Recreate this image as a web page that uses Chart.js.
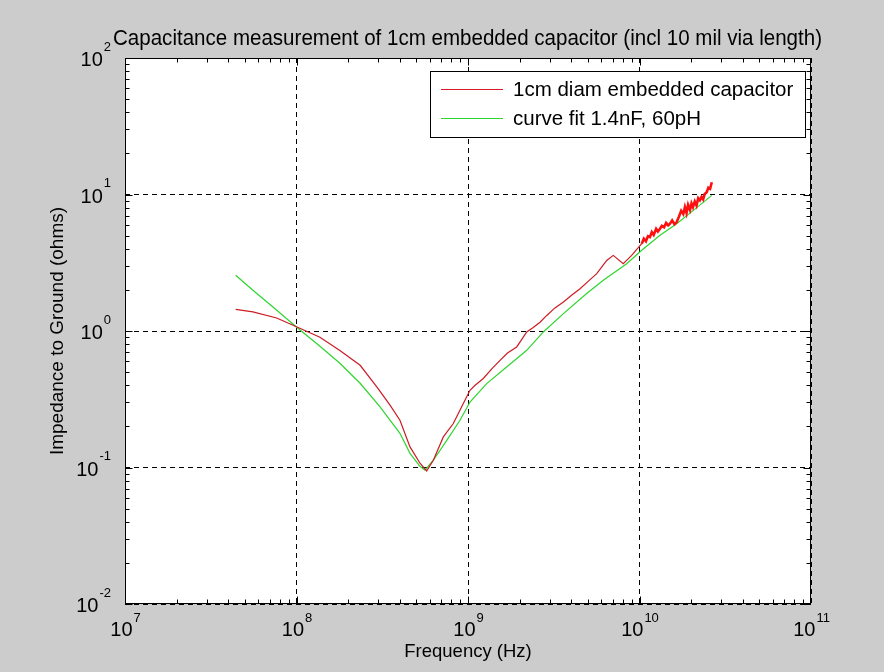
<!DOCTYPE html>
<html><head><meta charset="utf-8">
<script src="https://cdn.jsdelivr.net/npm/chart.js@4"></script>
<style>html,body{margin:0;padding:0;background:#cccccc;overflow:hidden}</style>
</head><body>
<canvas id="c" width="884" height="672"></canvas>
<script>
const titleText = 'Capacitance measurement of 1cm embedded capacitor (incl 10 mil via length)';
const xLabel = 'Frequency (Hz)';
const yLabel = 'Impedance to Ground (ohms)';
const seriesNames = ['1cm diam embedded capacitor', 'curve fit 1.4nF, 60pH'];
const xExponents = [7, 8, 9, 10, 11];
const yExponents = [-2, -1, 0, 1, 2];

const measFreq = [4.42e7, 5.57e7, 7.66e7, 1.007e8, 1.37e8, 1.79e8, 2.35e8, 2.94e8, 3.51e8, 4.01e8,
  4.59e8, 5.25e8, 5.74e8, 6.28e8, 7.18e8, 8.21e8, 9.39e8, 1.027e9, 1.1e9, 1.228e9, 1.38e9, 1.537e9,
  1.7e9, 1.923e9, 2.05e9, 2.2e9, 2.4e9, 2.63e9, 2.88e9, 3.2e9, 3.6e9, 4.0e9, 4.5e9, 5.0e9, 5.63e9,
  6.44e9, 7.03e9, 8.04e9, 9.0e9, 1.03e10, 1.06e10, 1.09e10, 1.12e10, 1.15e10, 1.18e10, 1.21e10,
  1.25e10, 1.28e10, 1.317e10, 1.35e10, 1.39e10, 1.43e10, 1.47e10, 1.506e10, 1.55e10, 1.6e10,
  1.648e10, 1.7e10, 1.75e10, 1.8e10, 1.84e10, 1.88e10, 1.92e10, 1.97e10, 2.01e10, 2.05e10, 2.1e10,
  2.15e10, 2.2e10, 2.25e10, 2.3e10, 2.35e10, 2.4e10, 2.465e10, 2.52e10, 2.58e10, 2.64e10];
const measZ = [1.44, 1.38, 1.245, 1.07, 0.90, 0.72, 0.561, 0.389, 0.286, 0.222,
  0.1416, 0.1075, 0.0944, 0.113, 0.1675, 0.210, 0.294, 0.368, 0.40, 0.449, 0.53, 0.610,
  0.69, 0.764, 0.86, 0.984, 1.06, 1.16, 1.30, 1.47, 1.63, 1.82, 2.04, 2.3, 2.63,
  3.29, 3.58, 3.11, 3.58, 4.36, 4.75, 4.55, 4.95, 4.88, 5.3, 5.05,
  5.6, 5.35, 5.62, 5.9, 5.75, 6.2, 5.95, 6.11, 6.45, 6.05,
  6.28, 6.9, 7.6, 7.2, 8.09, 7.3, 8.4, 7.7, 8.6, 8.09, 8.9,
  8.3, 9.4, 9.06, 9.6, 9.2, 10.1, 10.4, 11.2, 11.0, 12.3];

const fitFreq = [4.42e7, 5.57e7, 7.29e7, 1.007e8, 1.37e8, 1.79e8, 2.35e8, 3.07e8, 4.01e8, 4.59e8,
  5.25e8, 5.61e8, 6.28e8, 7.52e8, 8.98e8, 1.027e9, 1.285e9, 1.68e9, 2.2e9, 2.75e9, 3.6e9, 4.92e9,
  6.15e9, 8.42e9, 1.03e10, 1.317e10, 1.648e10, 2.06e10, 2.64e10];
const fitZ = [2.56, 1.99, 1.50, 1.06, 0.773, 0.580, 0.414, 0.278, 0.178, 0.127,
  0.102, 0.0955, 0.113, 0.158, 0.222, 0.302, 0.412, 0.545, 0.722, 0.984, 1.34, 1.88,
  2.35, 3.11, 3.90, 5.02, 6.11, 7.65, 9.85];

const FONT = '"Liberation Sans", Arial, Helvetica, sans-serif';
const pts = (xs, ys) => xs.map((x, i) => ({x: x, y: ys[i]}));

const matlabPlugin = {
  id: 'matlab',
  beforeDraw(chart) {
    const {ctx, chartArea: a} = chart;
    ctx.save();
    ctx.fillStyle = '#cccccc';
    ctx.fillRect(0, 0, chart.width, chart.height);
    ctx.fillStyle = '#ffffff';
    ctx.fillRect(a.left, a.top, a.right - a.left, a.bottom - a.top);
    ctx.restore();
  },
  afterDraw(chart) {
    const {ctx, chartArea: a} = chart;
    const xs = chart.scales.x, ys = chart.scales.y;
    ctx.save();
    // title
    ctx.fillStyle = '#000';
    ctx.font = '21.2px ' + FONT;
    ctx.textAlign = 'center';
    ctx.textBaseline = 'middle';
    ctx.fillText(titleText, 467.5, 39, 709);
    // box
    ctx.strokeStyle = '#000';
    ctx.lineWidth = 1;
    const L = Math.round(a.left) + 0.5, R = Math.round(a.right) - 0.5;
    const T = Math.round(a.top) + 0.5, B = Math.round(a.bottom) - 0.5;
    ctx.strokeRect(L, T, R - L, B - T);
    ctx.beginPath();
    for (let e = xExponents[0]; e < xExponents[xExponents.length - 1]; e++) {
      for (let m = 1; m <= 9; m++) {
        const px = Math.round(xs.getPixelForValue(m * Math.pow(10, e))) + 0.5;
        const len = m === 1 ? 7 : 4;
        ctx.moveTo(px, B); ctx.lineTo(px, B - len);
        ctx.moveTo(px, T); ctx.lineTo(px, T + len);
      }
    }
    for (let e = yExponents[0]; e < yExponents[yExponents.length - 1]; e++) {
      for (let m = 1; m <= 9; m++) {
        const py = Math.round(ys.getPixelForValue(m * Math.pow(10, e))) + 0.5;
        const len = m === 1 ? 7 : 4;
        ctx.moveTo(L, py); ctx.lineTo(L + len, py);
        ctx.moveTo(R, py); ctx.lineTo(R - len, py);
      }
    }
    ctx.stroke();
    ctx.fillStyle = '#000';
    const baseFont = '20px ' + FONT, expFont = '13px ' + FONT;
    ctx.textBaseline = 'alphabetic';
    xExponents.forEach(e => {
      const px = xs.getPixelForValue(Math.pow(10, e));
      ctx.font = baseFont; const wb = ctx.measureText('10').width;
      ctx.font = expFont; const we = ctx.measureText(String(e)).width;
      const x0 = px - (wb + we) / 2;
      ctx.textAlign = 'left';
      ctx.font = baseFont; ctx.fillText('10', x0, 636);
      ctx.font = expFont; ctx.fillText(String(e), x0 + wb + 1, 622);
    });
    yExponents.forEach(e => {
      const py = ys.getPixelForValue(Math.pow(10, e));
      ctx.font = expFont; const we = ctx.measureText(String(e)).width;
      ctx.textAlign = 'right';
      ctx.fillText(String(e), 111, py - 7.5);
      ctx.font = baseFont;
      ctx.fillText('10', 111 - we - 1, py + 8);
    });
    const lx0 = 430.5, ly0 = 71.5, lx1 = 805.5, ly1 = 137.5;
    ctx.fillStyle = '#fff';
    ctx.fillRect(lx0, ly0, lx1 - lx0, ly1 - ly0);
    ctx.strokeStyle = '#000';
    ctx.strokeRect(lx0, ly0, lx1 - lx0, ly1 - ly0);
    const rowY = [89.5, 118.5];
    chart.data.datasets.forEach((ds, i) => {
      ctx.strokeStyle = ds.legendColor;
      ctx.lineWidth = 1;
      ctx.beginPath();
      ctx.moveTo(441, rowY[i]); ctx.lineTo(503, rowY[i]);
      ctx.stroke();
      ctx.fillStyle = '#000';
      ctx.font = '20.5px ' + FONT;
      ctx.textAlign = 'left';
      ctx.textBaseline = 'middle';
      ctx.fillText(ds.label, 513, rowY[i] + 1);
    });
    ctx.restore();
  }
};

new Chart(document.getElementById('c'), {
  type: 'line',
  data: {
    datasets: [
      {
        label: seriesNames[0],
        data: pts(measFreq, measZ),
        borderColor: '#cc1c24',
        legendColor: '#d81c24',
        borderWidth: 1.2,
        pointRadius: 0,
        tension: 0,
        fill: false,
        segment: {
          borderWidth: c => (c.p0.parsed.x >= 1.03e10 ? 2.6 : 1.2),
          borderColor: c => (c.p0.parsed.x >= 1.03e10 ? '#ff1010' : '#cc1c24')
        }
      },
      {
        label: seriesNames[1],
        data: pts(fitFreq, fitZ),
        borderColor: '#2ed52e',
        legendColor: '#2ed52e',
        borderWidth: 1.2,
        pointRadius: 0,
        tension: 0,
        fill: false
      }
    ]
  },
  options: {
    responsive: false,
    animation: false,
    devicePixelRatio: 1,
    layout: {padding: {left: 0, right: 73, top: 58, bottom: 0}},
    plugins: {
      legend: {display: false},
      tooltip: {enabled: false},
      title: {display: false}
    },
    scales: {
      x: {
        type: 'logarithmic',
        min: 1e7, max: 1e11,
        afterBuildTicks: s => { s.ticks = xExponents.map(e => ({value: Math.pow(10, e)})); },
        afterFit: s => { s.height = 68; },
        ticks: {display: false},
        grid: {color: '#000', lineWidth: 1, drawTicks: false},
        border: {display: false, dash: [5, 4], color: '#000'},
        title: {display: true, text: xLabel, color: '#000',
          font: {family: FONT, size: 18.5, lineHeight: 1.2}, padding: {top: 0, bottom: 9}}
      },
      y: {
        type: 'logarithmic',
        min: 1e-2, max: 1e2,
        afterBuildTicks: s => { s.ticks = yExponents.map(e => ({value: Math.pow(10, e)})); },
        afterFit: s => { s.width = 125; },
        ticks: {display: false},
        grid: {color: '#000', lineWidth: 1, drawTicks: false},
        border: {display: false, dash: [5, 4], color: '#000'},
        title: {display: true, text: yLabel, color: '#000',
          font: {family: FONT, size: 19, lineHeight: 1.2}, padding: {top: 46, bottom: 0}}
      }
    }
  },
  plugins: [matlabPlugin]
});
</script>
</body></html>
